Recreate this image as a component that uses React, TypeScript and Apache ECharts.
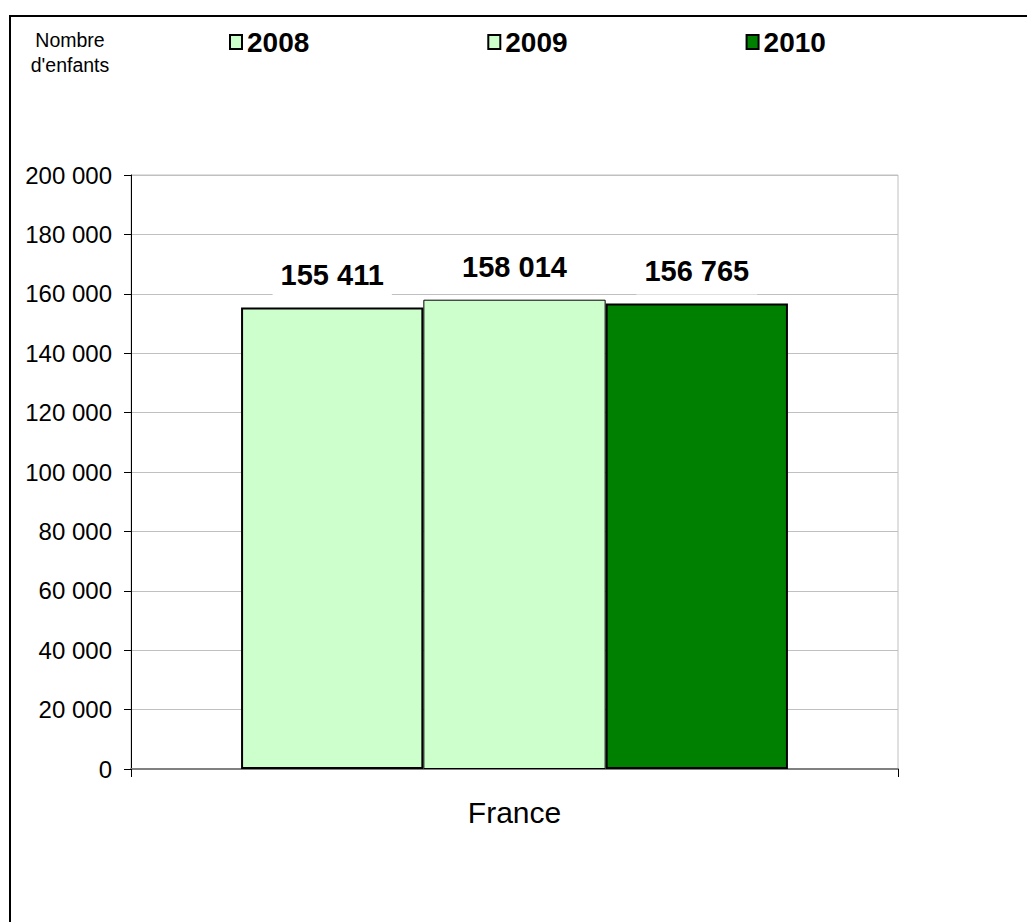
import React, { useEffect, useRef } from "react";
import * as echarts from "echarts";

const categories = ["France"];
const seriesNames = ["2008", "2009", "2010"];
const values2008 = [155411];
const values2009 = [158014];
const values2010 = [156765];
const yTicks = [0, 20000, 40000, 60000, 80000, 100000, 120000, 140000, 160000, 180000, 200000];
const yAxisTitle = "Nombre\nd'enfants";

const FONT = "'Liberation Sans', Arial, sans-serif";
const fmt = (v: number) => String(v).replace(/\B(?=(\d{3})+(?!\d))/g, " ");

export default function App() {
  const ref = useRef<HTMLDivElement>(null);
  useEffect(() => {
    document.body.style.margin = "0";
    document.body.style.overflow = "hidden";
    if (!ref.current) return;
    const chart = echarts.init(ref.current, undefined, { renderer: "svg" });
    const label = {
      show: true,
      position: "top",
      distance: 9,
      formatter: (p: any) => fmt(p.value),
      fontFamily: FONT,
      fontSize: 29,
      fontWeight: "bold",
      color: "#000",
      backgroundColor: "#fff",
      padding: [2, 8, 9, 8],
    };
    const styles = [
      { color: "#CCFFCC", borderColor: "#000", borderWidth: 2 },
      { color: "#CCFFCC", borderColor: "#000", borderWidth: 1 },
      { color: "#008000", borderColor: "#000", borderWidth: 2 },
    ];
    const data = [values2008, values2009, values2010];
    chart.setOption({
      animation: false,
      backgroundColor: "#fff",
      textStyle: { fontFamily: FONT },
      grid: {
        left: 131,
        right: 129,
        top: 175,
        bottom: 153,
        show: true,
        borderColor: "#c0c0c0",
        borderWidth: 1,
        backgroundColor: "transparent",
      },
      legend: {
        data: seriesNames,
        icon: "rect",
        left: 224,
        top: 23,
        itemWidth: 12,
        itemHeight: 14,
        itemGap: 178,
        textStyle: { fontFamily: FONT, fontSize: 28, fontWeight: "bold", color: "#000" },
      },
      xAxis: {
        type: "category",
        data: categories,
        axisLine: { show: true, lineStyle: { color: "#808080", width: 2 } },
        axisTick: { show: true, length: 8, lineStyle: { color: "#000", width: 1 } },
        axisLabel: { fontFamily: FONT, fontSize: 30, color: "#000", margin: 28 },
      },
      yAxis: {
        type: "value",
        min: yTicks[0],
        max: yTicks[yTicks.length - 1],
        interval: yTicks[1] - yTicks[0],
        axisLine: { show: true, lineStyle: { color: "#000", width: 1 } },
        axisTick: { show: true, length: 7, lineStyle: { color: "#000" } },
        axisLabel: {
          fontFamily: FONT,
          fontSize: 24,
          color: "#000",
          margin: 19,
          formatter: (v: number) => fmt(v),
        },
        splitLine: { show: true, lineStyle: { color: "#c0c0c0", width: 1 } },
      },
      series: seriesNames.map((name, i) => ({
        name,
        type: "bar",
        data: data[i],
        barGap: "0%",
        barCategoryGap: "28.7%",
        itemStyle: styles[i],
        label,
      })),
      graphic: [
        {
          type: "text",
          x: 70,
          y: 27,
          style: {
            text: yAxisTitle,
            font: `19.5px ${FONT}`,
            fill: "#000",
            textAlign: "center",
            lineHeight: 25,
          },
        },
        {
          type: "rect",
          shape: { x: 10, y: 16, width: 1200, height: 1100 },
          style: { fill: "none", stroke: "#000", lineWidth: 2 },
          silent: true,
        },
      ],
    });
    return () => chart.dispose();
  }, []);
  return <div ref={ref} style={{ width: 1027, height: 922 }} />;
}
